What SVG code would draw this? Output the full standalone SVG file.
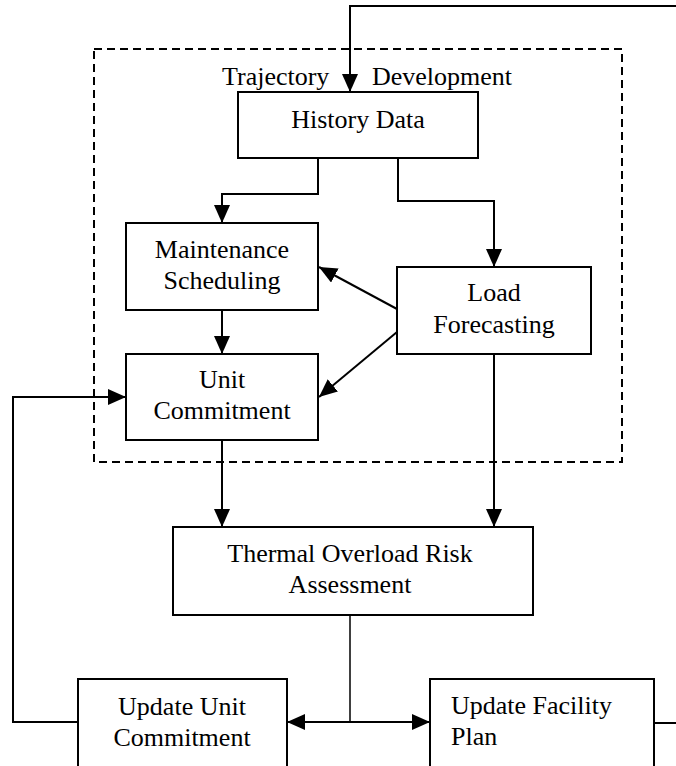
<svg xmlns="http://www.w3.org/2000/svg" width="676" height="766" viewBox="0 0 676 766">
  <style>
    .box { fill: #ffffff; stroke: #000000; stroke-width: 2; }
    .wire { fill: none; stroke: #000000; stroke-width: 2; }
    .thin { fill: none; stroke: #000000; stroke-width: 1.5; }
    .frame { fill: none; stroke: #000000; stroke-width: 2; stroke-dasharray: 8 5; }
    text { font-family: "Liberation Serif", "Times New Roman", serif; font-size: 26px; fill: #000000; }
    .c { text-anchor: middle; }
  </style>
  <defs>
    <marker id="arrow" viewBox="0 0 18 16" refX="18" refY="8" markerWidth="18" markerHeight="16" markerUnits="userSpaceOnUse" orient="auto">
      <path d="M0,0 L18,8 L0,16 z" fill="#000000"/>
    </marker>
  </defs>

  <!-- trajectory development frame -->
  <g id="trajectory-frame">
    <rect class="frame" x="94" y="49" width="528" height="413"/>
    <text x="222" y="85">Trajectory</text>
    <text x="372" y="85">Development</text>
  </g>

  <!-- connectors -->
  <g id="connectors">
    <polyline class="wire" points="676,6 350,6 350,92" marker-end="url(#arrow)"/>
    <polyline class="wire" points="318,158 318,194 222,194 222,223" marker-end="url(#arrow)"/>
    <polyline class="wire" points="398,158 398,201 494,201 494,267" marker-end="url(#arrow)"/>
    <line class="wire" x1="397" y1="309" x2="319" y2="267" marker-end="url(#arrow)"/>
    <line class="wire" x1="397" y1="332" x2="319" y2="397" marker-end="url(#arrow)"/>
    <line class="wire" x1="222" y1="310" x2="222" y2="354" marker-end="url(#arrow)"/>
    <line class="wire" x1="222" y1="440" x2="222" y2="527" marker-end="url(#arrow)"/>
    <line class="wire" x1="494" y1="354" x2="494" y2="527" marker-end="url(#arrow)"/>
    <line class="thin" x1="350" y1="615" x2="350" y2="722"/>
    <line class="wire" x1="350" y1="722" x2="287" y2="722" marker-end="url(#arrow)"/>
    <line class="wire" x1="350" y1="722" x2="430" y2="722" marker-end="url(#arrow)"/>
    <polyline class="wire" points="78,722 13,722 13,397 126,397" marker-end="url(#arrow)"/>
    <line class="wire" x1="654" y1="723" x2="676" y2="723"/>
  </g>

  <g id="history-data">
    <rect class="box" x="238" y="92" width="240" height="66"/>
    <text class="c" x="358" y="128">History Data</text>
  </g>

  <g id="maintenance-scheduling">
    <rect class="box" x="126" y="223" width="192" height="87"/>
    <text class="c" x="222" y="258">Maintenance</text>
    <text class="c" x="222" y="289">Scheduling</text>
  </g>

  <g id="load-forecasting">
    <rect class="box" x="397" y="267" width="194" height="87"/>
    <text class="c" x="494" y="301">Load</text>
    <text class="c" x="494" y="333">Forecasting</text>
  </g>

  <g id="unit-commitment">
    <rect class="box" x="126" y="354" width="192" height="86"/>
    <text class="c" x="222" y="388">Unit</text>
    <text class="c" x="222" y="419">Commitment</text>
  </g>

  <g id="thermal-overload-risk-assessment">
    <rect class="box" x="173" y="527" width="360" height="88"/>
    <text class="c" x="350" y="562">Thermal Overload Risk</text>
    <text class="c" x="350" y="593">Assessment</text>
  </g>

  <g id="update-unit-commitment">
    <rect class="box" x="78" y="679" width="209" height="100"/>
    <text class="c" x="182" y="715">Update Unit</text>
    <text class="c" x="182" y="746">Commitment</text>
  </g>

  <g id="update-facility-plan">
    <rect class="box" x="430" y="679" width="224" height="100"/>
    <text x="451" y="714">Update Facility</text>
    <text x="451" y="745">Plan</text>
  </g>
</svg>
